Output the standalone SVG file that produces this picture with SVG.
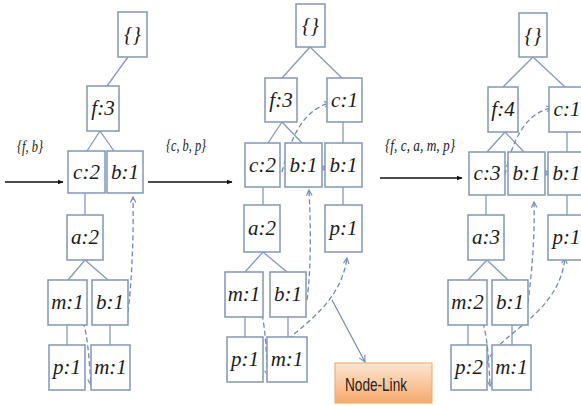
<svg xmlns="http://www.w3.org/2000/svg" width="581" height="405" viewBox="0 0 581 405">
  <defs>
    <style>
      .box { fill: #ffffff; stroke: #8196b6; stroke-width: 1.5; }
      .lbl { font-size: 21px; fill: #1a1a1a; text-anchor: middle; }
      .set { font-size: 16px; fill: #1a1a1a; }
      .edge { stroke: #8599ba; stroke-width: 1.3; fill: none; }
      .link { stroke: #7189b2; stroke-width: 1.3; fill: none; stroke-dasharray: 5 3; marker-end: url(#open); }
      .step { stroke: #111111; stroke-width: 1.3; fill: none; marker-end: url(#solid); }
    </style>
    <marker id="solid" viewBox="0 0 10 10" refX="9" refY="5" markerWidth="6" markerHeight="6" orient="auto" markerUnits="userSpaceOnUse">
      <path d="M0,1 L10,5 L0,9 Z" fill="#111111"/>
    </marker>
    <marker id="open" viewBox="0 0 10 10" refX="9" refY="5" markerWidth="7" markerHeight="7" orient="auto" markerUnits="userSpaceOnUse">
      <path d="M1,1 L9,5 L1,9" fill="none" stroke="#7189b2" stroke-width="1.6"/>
    </marker>
    <marker id="blue" viewBox="0 0 10 10" refX="9" refY="5" markerWidth="8" markerHeight="8" orient="auto" markerUnits="userSpaceOnUse">
      <path d="M1,1 L9,5 L1,9" fill="none" stroke="#6f8ab8" stroke-width="1.4"/>
    </marker>
    <linearGradient id="peach" x1="0" y1="0" x2="0" y2="1">
      <stop offset="0" stop-color="#fde6d2"/>
      <stop offset="1" stop-color="#f7aa6c"/>
    </linearGradient>
  </defs>

  <rect width="581" height="405" fill="#ffffff"/>

  <!-- connectors -->
  <g id="connectors">
    <!-- transaction steps -->
    <path class="step" d="M5,182 L63,182"/>
    <path class="step" d="M148,182 L232,182"/>
    <path class="step" d="M380,178 L462,178"/>

    <!-- tree 1 edges -->
    <path class="edge" d="M128,57 L107,86"/>
    <path class="edge" d="M100,131 L87,151 M100,131 L114,151"/>
    <path class="edge" d="M85,193 L85,215"/>
    <path class="edge" d="M85,260 L68,280 M85,260 L108,280"/>
    <path class="edge" d="M67,325 L67,345 M110,325 L110,345"/>

    <!-- tree 2 edges -->
    <path class="edge" d="M310,47 L282,78 M310,47 L342,78"/>
    <path class="edge" d="M282,122 L268,143 M282,122 L302,143"/>
    <path class="edge" d="M343,122 L343,143 M343,187 L343,205"/>
    <path class="edge" d="M263,187 L263,205"/>
    <path class="edge" d="M263,252 L245,272 M263,252 L287,272"/>
    <path class="edge" d="M245,317 L245,337 M288,317 L288,337"/>

    <!-- tree 3 edges -->
    <path class="edge" d="M533,57 L503,87 M533,57 L565,87"/>
    <path class="edge" d="M505,132 L487,152 M505,132 L524,152"/>
    <path class="edge" d="M567,132 L567,152 M567,195 L567,215"/>
    <path class="edge" d="M486,195 L486,215"/>
    <path class="edge" d="M487,260 L468,280 M487,260 L508,280"/>
    <path class="edge" d="M468,325 L468,345 M512,325 L512,345"/>

    <!-- tree 1 node-links -->
    <path class="link" d="M128,312 C131,290 134,240 133,197"/>
    <path class="link" d="M83,322 C88,336 89,360 91,385"/>

    <!-- tree 2 node-links -->
    <path class="link" d="M282,172 C290,140 302,110 330,103"/>
    <path class="link" d="M321,168 L327,168" stroke-dasharray="none"/>
    <path class="link" d="M307,300 C311,270 311,230 309,190"/>
    <path class="link" d="M262,315 C266,332 266,355 268,376"/>
    <path class="link" d="M268,372 C266,338 338,322 347,258"/>
    <path d="M332,300 L365,362" stroke="#6f8ab8" stroke-width="1.2" fill="none" marker-end="url(#blue)"/>

    <!-- tree 3 node-links -->
    <path class="link" d="M505,175 C512,140 526,112 552,108"/>
    <path class="link" d="M544,173 L550,173" stroke-dasharray="none"/>
    <path class="link" d="M528,303 C532,270 535,235 534,202"/>
    <path class="link" d="M483,323 C488,340 489,365 490,386"/>
    <path class="link" d="M486,372 C484,336 558,322 565,258"/>
  </g>

  <!-- transaction labels -->
  <g font-family="Liberation Serif, Times New Roman, serif" font-style="italic">
    <text class="set" x="17" y="152" textLength="26" lengthAdjust="spacingAndGlyphs">{f, b}</text>
    <text class="set" x="166" y="151" textLength="40" lengthAdjust="spacingAndGlyphs">{c, b, p}</text>
    <text class="set" x="385" y="151" textLength="70" lengthAdjust="spacingAndGlyphs">{f, c, a, m, p}</text>
  </g>

  <g font-family="Liberation Serif, Times New Roman, serif" font-style="italic">
    <!-- tree 1 -->
    <g id="t1-root"><rect class="box" x="118" y="12" width="29" height="45"/><text class="lbl" x="132.5" y="41">{}</text></g>
    <g id="t1-f"><rect class="box" x="87" y="86" width="32" height="45"/><text class="lbl" x="103" y="115">f:3</text></g>
    <g id="t1-c"><rect class="box" x="68" y="151" width="37" height="42"/><text class="lbl" x="86.5" y="179">c:2</text></g>
    <g id="t1-b"><rect class="box" x="107" y="151" width="36" height="42"/><text class="lbl" x="125" y="179">b:1</text></g>
    <g id="t1-a"><rect class="box" x="67" y="215" width="36" height="45"/><text class="lbl" x="85" y="244">a:2</text></g>
    <g id="t1-m"><rect class="box" x="48" y="280" width="39" height="45"/><text class="lbl" x="67.5" y="309">m:1</text></g>
    <g id="t1-b2"><rect class="box" x="92" y="280" width="36" height="45"/><text class="lbl" x="110" y="309">b:1</text></g>
    <g id="t1-p"><rect class="box" x="49" y="345" width="36" height="45"/><text class="lbl" x="67" y="374">p:1</text></g>
    <g id="t1-m2"><rect class="box" x="91" y="345" width="39" height="45"/><text class="lbl" x="110.5" y="374">m:1</text></g>

    <!-- tree 2 -->
    <g id="t2-root"><rect class="box" x="296" y="4" width="29" height="43"/><text class="lbl" x="310.5" y="32">{}</text></g>
    <g id="t2-f"><rect class="box" x="265" y="78" width="32" height="44"/><text class="lbl" x="281" y="107">f:3</text></g>
    <g id="t2-c1"><rect class="box" x="327" y="78" width="35" height="44"/><text class="lbl" x="344.5" y="107">c:1</text></g>
    <g id="t2-c"><rect class="box" x="245" y="143" width="35" height="44"/><text class="lbl" x="262.5" y="172">c:2</text></g>
    <g id="t2-b"><rect class="box" x="285" y="143" width="37" height="44"/><text class="lbl" x="303.5" y="172">b:1</text></g>
    <g id="t2-b3"><rect class="box" x="325" y="143" width="37" height="44"/><text class="lbl" x="343.5" y="172">b:1</text></g>
    <g id="t2-a"><rect class="box" x="244" y="205" width="36" height="47"/><text class="lbl" x="262" y="235">a:2</text></g>
    <g id="t2-p2"><rect class="box" x="325" y="205" width="37" height="47"/><text class="lbl" x="343.5" y="235">p:1</text></g>
    <g id="t2-m"><rect class="box" x="225" y="272" width="38" height="45"/><text class="lbl" x="244" y="301">m:1</text></g>
    <g id="t2-b2"><rect class="box" x="270" y="272" width="36" height="45"/><text class="lbl" x="288" y="301">b:1</text></g>
    <g id="t2-p"><rect class="box" x="227" y="337" width="36" height="45"/><text class="lbl" x="245" y="366">p:1</text></g>
    <g id="t2-m2"><rect class="box" x="267" y="337" width="40" height="45"/><text class="lbl" x="287" y="366">m:1</text></g>

    <!-- tree 3 -->
    <g id="t3-root"><rect class="box" x="519" y="13" width="28" height="44"/><text class="lbl" x="533" y="42">{}</text></g>
    <g id="t3-f"><rect class="box" x="488" y="87" width="30" height="45"/><text class="lbl" x="503" y="116">f:4</text></g>
    <g id="t3-c1"><rect class="box" x="549" y="87" width="36" height="45"/><text class="lbl" x="567" y="116">c:1</text></g>
    <g id="t3-c"><rect class="box" x="469" y="152" width="36" height="43"/><text class="lbl" x="487" y="180">c:3</text></g>
    <g id="t3-b"><rect class="box" x="508" y="152" width="37" height="43"/><text class="lbl" x="526.5" y="180">b:1</text></g>
    <g id="t3-b3"><rect class="box" x="548" y="152" width="37" height="43"/><text class="lbl" x="566.5" y="180">b:1</text></g>
    <g id="t3-a"><rect class="box" x="468" y="215" width="36" height="45"/><text class="lbl" x="486" y="244">a:3</text></g>
    <g id="t3-p2"><rect class="box" x="548" y="215" width="37" height="45"/><text class="lbl" x="566.5" y="244">p:1</text></g>
    <g id="t3-m"><rect class="box" x="448" y="280" width="39" height="45"/><text class="lbl" x="467.5" y="309">m:2</text></g>
    <g id="t3-b2"><rect class="box" x="492" y="280" width="36" height="45"/><text class="lbl" x="510" y="309">b:1</text></g>
    <g id="t3-p"><rect class="box" x="451" y="345" width="36" height="45"/><text class="lbl" x="469" y="374">p:2</text></g>
    <g id="t3-m2"><rect class="box" x="492" y="345" width="39" height="45"/><text class="lbl" x="511.5" y="374">m:1</text></g>
  </g>

  <!-- node-link legend -->
  <g id="node-link">
    <rect x="335" y="363" width="97" height="40" fill="url(#peach)" stroke="#eea56a" stroke-width="1"/>
    <text x="345" y="391" font-family="Liberation Sans, Arial, sans-serif" font-size="19" fill="#222222" textLength="62" lengthAdjust="spacingAndGlyphs">Node-Link</text>
  </g>
</svg>
